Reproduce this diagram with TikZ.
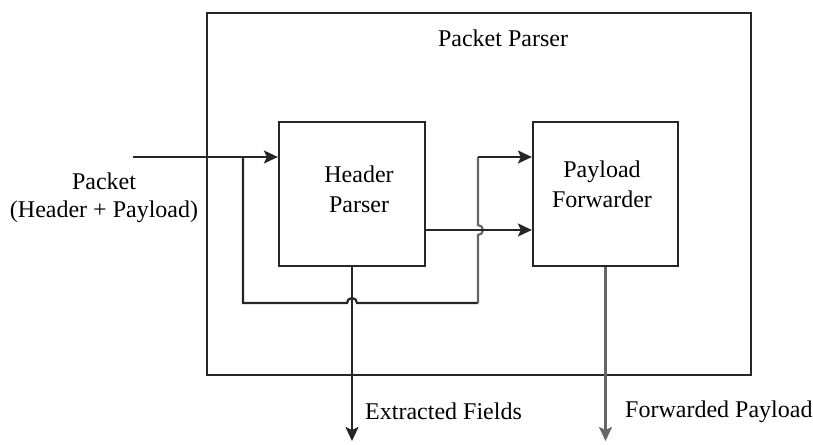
\documentclass[tikz,border=0pt]{standalone}
\usepackage{fontspec}
\setmainfont{Liberation Serif}
\usetikzlibrary{arrows.meta}
\begin{document}
\begin{tikzpicture}[x=1pt,y=-1pt,
  ln/.style={line width=2.2pt, black!85},
  gln/.style={line width=2.2pt, black!60},
  arr/.style={-{Stealth[length=14pt,width=13pt,inset=3pt]}},
  blk/.style={draw, line width=2.2pt, black!85, minimum width=#1, minimum height=144pt, inner sep=0pt},
  txt/.style={font=\rmfamily\fontsize{24}{30}\selectfont, align=center, inner sep=0pt}]
\useasboundingbox (0,0) rectangle (813,444);
\node[draw, line width=2.2pt, black!85, minimum width=544pt, minimum height=362pt, inner sep=0pt] (outer) at (479,194) {};
\node[blk=146pt] (hp) at (352,194) {};
\node[blk=145pt] (pf) at (605.5,194) {};
\node[txt, anchor=base] (title) at (503,47) {Packet Parser};
\node[txt, anchor=north] (hpt) at (359,166) {Header\\Parser};
\node[txt, anchor=north] (pft) at (602,161) {Payload\\Forwarder};
\node[txt, anchor=north, font=\rmfamily\fontsize{24}{28}\selectfont] (pkt) at (104,173) {Packet\\(Header + Payload)};
\node[txt, anchor=base west] (ef) at (365,419) {Extracted Fields};
\node[txt, anchor=base west] (fp) at (625,417) {Forwarded Payload};
\coordinate (in) at (133,157);
\coordinate (j) at (243,157);
\coordinate (jb) at (243,303);
\coordinate (fb) at (478,303);
\coordinate (ft) at (478,157);
\coordinate (hx) at (478,230);
\coordinate (efo) at (352,441);
\coordinate (fpo) at (605.5,441);
% input
\draw[ln, arr] (in) -- (hp.west |- in);
% feedback path with hops
\draw[ln] (j) -- (jb) -- (347,303) arc[start angle=180, end angle=0, radius=5pt] -- (fb);
\draw[gln] (fb) -- (478,235) arc[start angle=-90, end angle=90, radius=5pt] -- (ft);
\draw[ln, arr] (ft) -- (pf.west |- ft);
% header output to payload
\draw[ln, arr] (hp.east |- hx) -- (pf.west |- hx);
% outputs
\draw[ln, arr] (hp.south) -- (efo);
\draw[gln, arr] (pf.south) -- (fpo);
\end{tikzpicture}
\end{document}
